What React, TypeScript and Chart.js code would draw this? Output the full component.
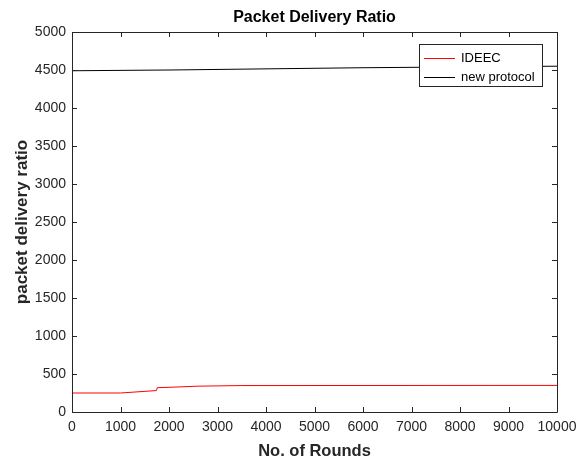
import React, { useEffect, useRef } from "react";
import { Chart, registerables } from "chart.js";

Chart.register(...registerables);

// Rounds and packet delivery ratio for each protocol
const ideecRounds = [0, 1000, 1740, 1760, 2000, 2600, 3500, 10000];
const ideecPdr = [250, 250, 282, 320, 325, 340, 348, 350];
const newRounds = [0, 2000, 4000, 6000, 8000, 10000];
const newPdr = [4490, 4500, 4515, 4530, 4540, 4550];

const seriesLabels = ["IDEEC", "new protocol"];
const seriesColors = ["#ff0000", "#000000"];

const xMin = 0;
const xMax = 10000;
const xStep = 1000;
const yMin = 0;
const yMax = 5000;
const yStep = 500;

const FONT = "'Liberation Sans', Arial, Helvetica, sans-serif";
const AXIS_COLOR = "#262626";

// Draws the closed axes box with inward tick marks on all four sides.
const boxPlugin = {
  id: "boxAxes",
  afterDatasetsDraw(chart: any) {
    const { ctx, chartArea, scales } = chart;
    const { left, right, top, bottom } = chartArea;
    const len = 5;
    ctx.save();
    ctx.strokeStyle = AXIS_COLOR;
    ctx.lineWidth = 1;
    ctx.beginPath();
    ctx.rect(Math.round(left) + 0.5, Math.round(top) + 0.5, Math.round(right - left), Math.round(bottom - top));
    ctx.stroke();
    ctx.beginPath();
    for (let v = xMin; v <= xMax; v += xStep) {
      const px = Math.round(scales.x.getPixelForValue(v)) + 0.5;
      ctx.moveTo(px, bottom);
      ctx.lineTo(px, bottom - len);
      ctx.moveTo(px, top);
      ctx.lineTo(px, top + len);
    }
    for (let v = yMin; v <= yMax; v += yStep) {
      const py = Math.round(scales.y.getPixelForValue(v)) + 0.5;
      ctx.moveTo(left, py);
      ctx.lineTo(left + len, py);
      ctx.moveTo(right, py);
      ctx.lineTo(right - len, py);
    }
    ctx.stroke();
    ctx.restore();
  },
};

// Legend box in the upper right corner of the plot area.
const legendPlugin = {
  id: "boxLegend",
  afterDraw(chart: any) {
    const { ctx, chartArea } = chart;
    const w = 123;
    const h = 42;
    const x = Math.round(chartArea.right - 15 - w);
    const y = Math.round(chartArea.top + 12);
    ctx.save();
    ctx.fillStyle = "#ffffff";
    ctx.fillRect(x, y, w, h);
    ctx.strokeStyle = AXIS_COLOR;
    ctx.lineWidth = 1;
    ctx.strokeRect(x + 0.5, y + 0.5, w, h);
    ctx.font = `13px ${FONT}`;
    ctx.textBaseline = "middle";
    seriesLabels.forEach((label, i) => {
      const cy = y + 14 + i * 19;
      ctx.fillStyle = seriesColors[i];
      ctx.fillRect(x + 5, cy, 31, 1);
      ctx.fillStyle = "#000000";
      ctx.fillText(label, x + 42, cy + 0.5);
    });
    ctx.restore();
  },
};

const plainTick = (v: any) => String(v);

export default function App() {
  const canvasRef = useRef<HTMLCanvasElement | null>(null);

  useEffect(() => {
    if (!canvasRef.current) return;
    const chart = new Chart(canvasRef.current, {
      type: "line",
      data: {
        datasets: [
          {
            label: seriesLabels[0],
            data: ideecRounds.map((r, i) => ({ x: r, y: ideecPdr[i] })),
            borderColor: seriesColors[0],
            borderWidth: 1,
            pointRadius: 0,
            tension: 0,
          },
          {
            label: seriesLabels[1],
            data: newRounds.map((r, i) => ({ x: r, y: newPdr[i] })),
            borderColor: seriesColors[1],
            borderWidth: 1,
            pointRadius: 0,
            tension: 0,
          },
        ],
      },
      options: {
        responsive: false,
        animation: false,
        layout: { padding: { left: 0, right: 28, top: 0, bottom: 0 } },
        plugins: {
          legend: { display: false },
          tooltip: { enabled: false },
          title: {
            display: true,
            text: "Packet Delivery Ratio",
            color: "#000000",
            fullSize: false,
            font: { family: FONT, size: 16, weight: "bold" },
            padding: { top: 8, bottom: 4.8 },
          },
        },
        scales: {
          x: {
            type: "linear",
            min: xMin,
            max: xMax,
            afterFit: (s: any) => {
              s.height = 49;
            },
            ticks: {
              stepSize: xStep,
              color: AXIS_COLOR,
              font: { family: FONT, size: 14 },
              padding: 7,
              maxRotation: 0,
              callback: plainTick,
            },
            grid: { display: false, drawTicks: false },
            border: { display: false },
            title: {
              display: true,
              text: "No. of Rounds",
              color: AXIS_COLOR,
              font: { family: FONT, size: 16.5, weight: "bold" },
              padding: { top: 0, bottom: 0 },
            },
          },
          y: {
            type: "linear",
            min: yMin,
            max: yMax,
            afterFit: (s: any) => {
              s.width = 72;
            },
            ticks: {
              stepSize: yStep,
              color: AXIS_COLOR,
              font: { family: FONT, size: 14 },
              padding: 6,
              callback: plainTick,
            },
            grid: { display: false, drawTicks: false },
            border: { display: false },
            title: {
              display: true,
              text: "packet delivery ratio",
              color: AXIS_COLOR,
              font: { family: FONT, size: 17, weight: "bold" },
              padding: { top: 12, bottom: 0 },
            },
          },
        },
      },
      plugins: [boxPlugin, legendPlugin],
    });
    return () => chart.destroy();
  }, []);

  return (
    <div style={{ position: "absolute", left: 0, top: 0, width: 585, height: 461, background: "#ffffff" }}>
      <canvas ref={canvasRef} width={585} height={461} style={{ display: "block" }} />
    </div>
  );
}
